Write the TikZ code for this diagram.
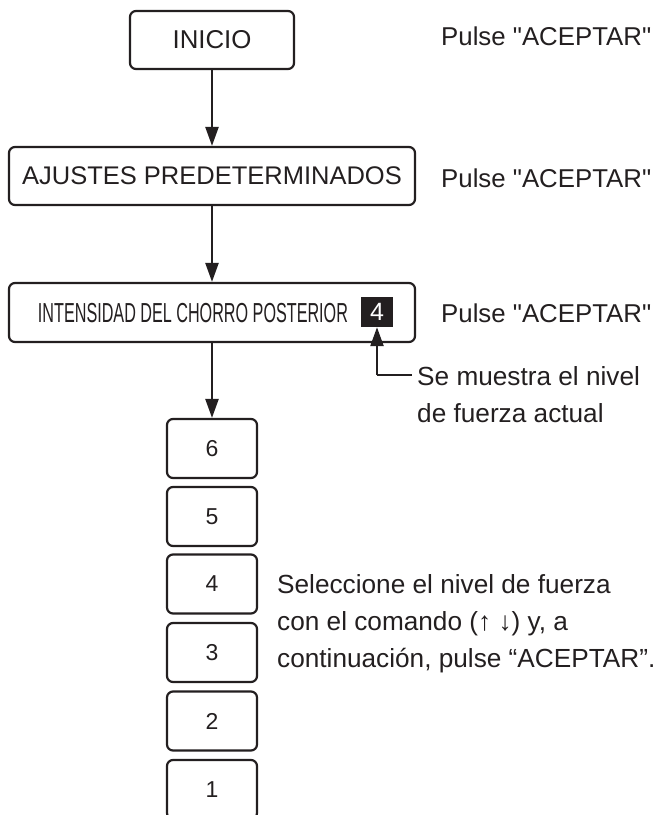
\documentclass[tikz,border=0pt]{standalone}
\usepackage{fontspec}
\setmainfont{Liberation Sans}
\usetikzlibrary{arrows.meta}
\definecolor{ink}{HTML}{231F20}
\begin{document}
\begin{tikzpicture}[x=1pt,y=-1pt,
  every node/.style={text=ink},
  box/.style={draw=ink,line width=2.2pt,rounded corners=6pt,inner sep=0pt},
  numbox/.style={box,minimum width=90pt,minimum height=59pt,font=\fontsize{23}{26}\selectfont},
  arr/.style={draw=ink,line width=2.4pt,-{Triangle[width=13pt,length=19pt]}},
  txt/.style={inner sep=0pt,font=\fontsize{26.2}{37}\selectfont,align=left},
  pulse/.style={inner sep=0pt,font=\fontsize{25.8}{30}\selectfont}]
\useasboundingbox (0,0) rectangle (661,815);
\clip (0,0) rectangle (661,815);
% boxes
\node[box,minimum width=164pt,minimum height=58pt,font=\fontsize{25.8}{29}\selectfont] (b1) at (212,40) {INICIO};
\node[box,minimum width=406pt,minimum height=58pt,font=\fontsize{25.5}{29}\selectfont] (b2) at (212,176) {AJUSTES PREDETERMINADOS};
\node[box,minimum width=406pt,minimum height=59pt] (b3) at (212,312.5) {};
\node[inner sep=0pt] (t3) at (193,313) {\resizebox{310pt}{\height}{\fontsize{27.5}{30}\selectfont INTENSIDAD DEL CHORRO POSTERIOR}};
\node[fill=ink,text=white,minimum width=32pt,minimum height=30pt,inner sep=0pt,font=\fontsize{25}{28}\selectfont] (blk) at (377,312) {4};
% number boxes
\node[numbox] (n6) at (212,448.5) {6};
\node[numbox] (n5) at (212,516.5) {5};
\node[numbox] (n4) at (212,584) {4};
\node[numbox] (n3) at (212,652.5) {3};
\node[numbox] (n2) at (212,721) {2};
\node[numbox] (n1) at (212,789.5) {1};
% arrows
\draw[arr] (b1.south) -- (b2.north);
\draw[arr] (b2.south) -- (b3.north);
\draw[arr] (b3.south) -- (n6.north);
% right texts
\node[pulse,anchor=base west] (p1) at (441,45) {Pulse \textquotedbl ACEPTAR\textquotedbl};
\node[pulse,anchor=base west] (p2) at (441,187) {Pulse \textquotedbl ACEPTAR\textquotedbl};
\node[pulse,anchor=base west] (p3) at (441,322) {Pulse \textquotedbl ACEPTAR\textquotedbl};
\node[txt,anchor=base west] (sm) at (417,422) {Se muestra el nivel\\de fuerza actual};
\coordinate (corner) at (377,375);
\draw[arr] (corner) -- (blk.south);
\draw[draw=ink,line width=2.4pt] (corner) -- (412,375);
\node[txt,anchor=base west] (sel) at (277,667) {Seleccione el nivel de fuerza\\con el comando (↑ ↓) y, a\\continuación, pulse “ACEPTAR”.};
\end{tikzpicture}
\end{document}
